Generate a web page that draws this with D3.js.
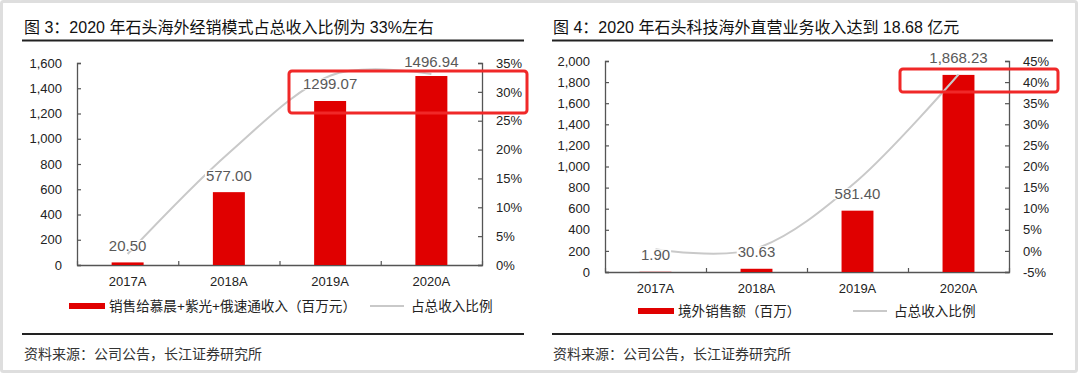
<!DOCTYPE html>
<html><head><meta charset="utf-8">
<script src="https://cdn.jsdelivr.net/npm/d3@7"></script>
<style>
html,body{margin:0;padding:0;background:#fff;}
svg{display:block;font-family:"Liberation Sans","Noto Sans CJK SC",sans-serif;}
</style></head>
<body><svg id="c" width="1080" height="376"></svg>
<script>
// ---- data ----
const categories = ["2017A","2018A","2019A","2020A"];
const leftRevenue = [20.50, 577.00, 1299.07, 1496.94];
const leftShare = [1.9, 19.4, 32.8, 33.1];           // %
const leftYTicks = [0,200,400,600,800,1000,1200,1400,1600];
const leftPctTicks = [0,5,10,15,20,25,30,35];
const rightRevenue = [1.90, 30.63, 581.40, 1868.23];
const rightShare = [0.4, 0.6, 16.7, 41.8];           // %
const rightYTicks = [0,200,400,600,800,1000,1200,1400,1600,1800,2000];
const rightPctTicks = [-5,0,5,10,15,20,25,30,35,40,45];
const leftTitle = "图 3：2020 年石头海外经销模式占总收入比例为 33%左右";
const rightTitle = "图 4：2020 年石头科技海外直营业务收入达到 18.68 亿元";
const leftBarLegend = "销售给慕晨+紫光+俄速通收入（百万元）";
const rightBarLegend = "境外销售额（百万）";
const lineLegend = "占总收入比例";
const sourceText = "资料来源：公司公告，长江证券研究所";

const RED = "#E00000", GRAY_LINE = "#C9C9C9", AXIS = "#555", TXT = "#222", LBL = "#595959";
const svg = d3.select("#c");

// frame
svg.append("rect").attr("x",1.5).attr("y",1.5).attr("width",1075).attr("height",370)
  .attr("fill","none").attr("stroke","#dedede").attr("stroke-width",3).attr("rx",2);

function panel(o){
  const g = svg.append("g");
  // title
  g.append("text").attr("x",o.titleX).attr("y",32.5).attr("font-size",16).attr("fill","#111").text(o.title);
  g.append("line").attr("x1",o.lineX0).attr("x2",o.lineX1).attr("y1",40.5).attr("y2",40.5).attr("stroke","#222").attr("stroke-width",2);
  // footer
  g.append("line").attr("x1",o.lineX0).attr("x2",o.lineX1).attr("y1",334).attr("y2",334).attr("stroke","#222").attr("stroke-width",2);
  g.append("text").attr("x",o.titleX).attr("y",359).attr("font-size",14).attr("fill","#333").text(sourceText);

  const x = d3.scaleBand().domain(categories).range([o.x0,o.x1]).paddingInner(0.684).paddingOuter(0.342);
  const y = d3.scaleLinear().domain(o.yDomain).range([o.yB,o.yT]);
  const yp = d3.scaleLinear().domain(o.pDomain).range([o.yB,o.yT]);

  // left axis
  const la = g.append("g").attr("transform",`translate(${o.x0},0)`)
    .call(d3.axisLeft(y).tickValues(o.yTicks).tickFormat(d3.format(",")).tickSizeInner(-4).tickSizeOuter(-4).tickPadding(15));
  // right axis
  const ra = g.append("g").attr("transform",`translate(${o.x1},0)`)
    .call(d3.axisRight(yp).tickValues(o.pTicks).tickFormat(d=>d+"%").tickSizeInner(-4).tickSizeOuter(-4).tickPadding(14));
  // x axis with boundary ticks
  const bounds = d3.range(categories.length+1).map(i=>o.x0 + i*x.step());
  const xa = g.append("g").attr("transform",`translate(0,${o.yB})`)
    .call(d3.axisBottom(d3.scaleLinear().domain([o.x0,o.x1]).range([o.x0,o.x1])).tickValues(bounds).tickFormat("").tickSizeInner(-4).tickSizeOuter(0));
  const xl = g.append("g").attr("transform",`translate(0,${o.yB})`)
    .call(d3.axisBottom(x).tickSize(0).tickPadding(12));
  xl.select(".domain").remove();
  [la,ra,xa,xl].forEach(a=>{
    a.selectAll(".domain").attr("stroke",AXIS).attr("stroke-width",1.3);
    a.selectAll(".tick line").attr("stroke",AXIS).attr("stroke-width",1.2);
    a.selectAll("text").attr("font-size",13).attr("fill",TXT).attr("font-family","Liberation Sans, Arial, sans-serif");
  });

  // bars
  g.selectAll("rect.bar").data(o.bars).join("rect").attr("class","bar")
    .attr("x",(d,i)=>x(categories[i])).attr("width",x.bandwidth())
    .attr("y",d=>y(d)).attr("height",d=>o.yB-y(d)).attr("fill",RED);

  // line
  const line = d3.line().x((d,i)=>x(categories[i])+x.bandwidth()/2).y(d=>yp(d)).curve(d3.curveCatmullRom.alpha(0));
  g.append("path").datum(o.share).attr("d",line).attr("fill","none").attr("stroke",GRAY_LINE).attr("stroke-width",2);

  // data labels (white background)
  o.bars.forEach((d,i)=>{
    const cx = x(categories[i])+x.bandwidth()/2;
    const cy = Math.max(y(d)-17, o.labelMin);
    const t = g.append("text").attr("x",cx).attr("y",cy).attr("dy","0.36em").attr("text-anchor","middle")
      .attr("font-size",15).attr("fill",LBL).text(o.fmt(d));
    const bb = t.node().getBBox();
    g.insert("rect",()=>t.node()).attr("x",bb.x-1).attr("y",cy-5.5).attr("width",bb.width+2).attr("height",11).attr("fill","#fff");
  });

  // highlight box
  g.append("rect").attr("x",o.box[0]).attr("y",o.box[1]).attr("width",o.box[2]).attr("height",o.box[3])
    .attr("rx",3).attr("fill","none").attr("stroke","#F02828").attr("stroke-width",3);

  // legend
  const ly = o.legendY;
  g.append("rect").attr("x",o.leg[0]).attr("y",ly-3).attr("width",36).attr("height",6).attr("fill",RED);
  g.append("text").attr("x",o.leg[0]+40).attr("y",ly).attr("dy","0.36em").attr("font-size",13.6).attr("fill",TXT).text(o.barLegend);
  g.append("line").attr("x1",o.leg[1]).attr("x2",o.leg[1]+34).attr("y1",ly).attr("y2",ly).attr("stroke",GRAY_LINE).attr("stroke-width",2);
  g.append("text").attr("x",o.leg[1]+41).attr("y",ly).attr("dy","0.36em").attr("font-size",13.6).attr("fill",TXT).text(lineLegend);
}

panel({title:leftTitle, titleX:24, lineX0:22, lineX1:524,
  x0:77, x1:482, yT:63, yB:265, yDomain:[0,1600], pDomain:[0,35],
  yTicks:leftYTicks, pTicks:leftPctTicks, bars:leftRevenue, share:leftShare,
  fmt:d3.format(".2f"), labelMin:62, box:[289,71,238,42],
  legendY:306, leg:[69,370], barLegend:leftBarLegend});

panel({title:rightTitle, titleX:553, lineX0:552, lineX1:1053,
  x0:605, x1:1009, yT:61, yB:272, yDomain:[0,2000], pDomain:[-5,45],
  yTicks:rightYTicks, pTicks:rightPctTicks, bars:rightRevenue, share:rightShare,
  fmt:d3.format(",.2f"), labelMin:0, box:[900,69,158,23],
  legendY:311, leg:[638,853], barLegend:rightBarLegend});
</script></body></html>
